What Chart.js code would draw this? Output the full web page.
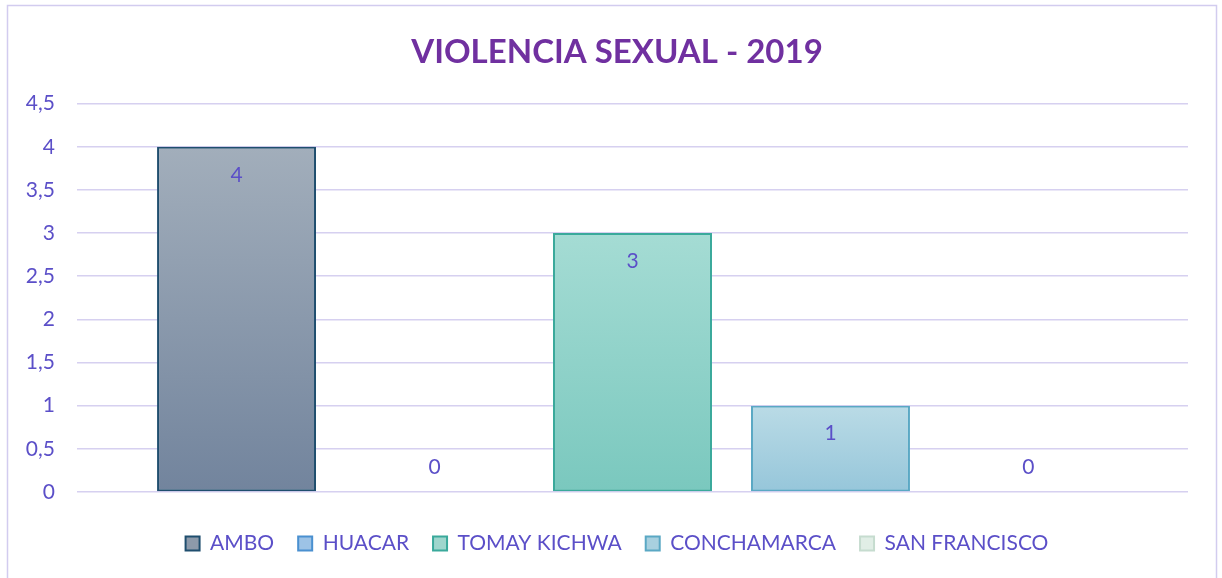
<!DOCTYPE html>
<html>
<head>
<meta charset="utf-8">
<script src="https://cdn.jsdelivr.net/npm/chart.js@4/dist/chart.umd.min.js"></script>
<style>
html,body{margin:0;padding:0;background:#fff;}
#wrap{position:absolute;left:0;top:0;width:1222px;height:578px;}
</style>
</head>
<body>
<div id="wrap"><canvas id="c" width="1222" height="578"></canvas></div>
<script>
const categories = ["2019"];
const seriesNames = ["AMBO", "HUACAR", "TOMAY KICHWA", "CONCHAMARCA", "SAN FRANCISCO"];
const ambo = [4];
const huacar = [0];
const tomayKichwa = [3];
const conchamarca = [1];
const sanFrancisco = [0];
const seriesValues = [ambo, huacar, tomayKichwa, conchamarca, sanFrancisco];
const yTicks = [0, 0.5, 1, 1.5, 2, 2.5, 3, 3.5, 4, 4.5];

const gradTop = ["#a2aebb", "#b5d2ee", "#a5dcd4", "#badbe6", "#e8f2ec"];
const gradBottom = ["#72849d", "#8ab6e0", "#7ac8be", "#96c6da", "#d6e8de"];
const borderCols = ["#1f4e6e", "#4a90d0", "#3aa99b", "#5aa8c4", "#c6dccf"];
const legendFill = ["#8d9aaa", "#9dc3e6", "#9fd6cd", "#a8d0df", "#e1eee6"];
const textCol = "#5b4fc8";
const FONT = "Lato, 'Open Sans', sans-serif";

function makeBg(i) {
  return function (ctx) {
    const chart = ctx.chart;
    const ys = chart.scales && chart.scales.y;
    if (!chart.chartArea || !ys || ctx.raw === undefined) return gradBottom[i];
    const top = ys.getPixelForValue(ctx.raw);
    const bot = ys.getPixelForValue(0);
    if (Math.abs(bot - top) < 1) return gradBottom[i];
    const g = chart.ctx.createLinearGradient(0, top, 0, bot);
    g.addColorStop(0, gradTop[i]);
    g.addColorStop(1, gradBottom[i]);
    return g;
  };
}

const datasets = seriesNames.map((name, i) => ({
  label: name,
  data: seriesValues[i],
  backgroundColor: makeBg(i),
  borderColor: borderCols[i],
  borderWidth: 2,
  borderSkipped: false,
  categoryPercentage: 0.891,
  barPercentage: 0.803
}));

const frame = {
  id: 'frame',
  beforeDraw(chart) {
    const c = chart.ctx;
    c.save();
    c.fillStyle = '#ffffff';
    c.fillRect(0, 0, chart.width, chart.height);
    c.strokeStyle = '#d2ccef';
    c.lineWidth = 1.5;
    c.strokeRect(7.5, 5.5, 1209, 600);
    c.restore();
  }
};

// shift title and legend centre slightly right, as in the original
const shiftBlocks = {
  id: 'shiftBlocks',
  afterLayout(chart) {
    const dx = 13;
    [chart.titleBlock, chart.legend].forEach(b => {
      if (b) { b.left += dx; b.right += dx; }
    });
  }
};

const valueLabels = {
  id: 'valueLabels',
  afterDatasetsDraw(chart) {
    const c = chart.ctx;
    c.save();
    c.fillStyle = textCol;
    c.font = "21px " + FONT;
    c.textAlign = 'center';
    c.textBaseline = 'middle';
    chart.data.datasets.forEach((ds, di) => {
      const meta = chart.getDatasetMeta(di);
      meta.data.forEach((bar, j) => {
        const v = ds.data[j];
        const y = v === 0 ? bar.y - 25 : bar.y + 28;
        c.fillText(String(v), bar.x, y);
      });
    });
    c.restore();
  }
};

new Chart(document.getElementById('c'), {
  type: 'bar',
  data: { labels: categories, datasets: datasets },
  plugins: [frame, shiftBlocks, valueLabels],
  options: {
    responsive: false,
    animation: false,
    layout: { padding: { left: 20, right: 34, top: 0, bottom: 14 } },
    plugins: {
      tooltip: { enabled: false },
      title: {
        display: true,
        text: 'VIOLENCIA SEXUAL - 2019',
        color: '#7030a0',
        font: { family: FONT, size: 33, weight: 'bold' },
        padding: { top: 33, bottom: 31 }
      },
      legend: {
        position: 'bottom',
        labels: {
          color: textCol,
          font: { family: FONT, size: 21 },
          boxWidth: 14,
          boxHeight: 14,
          padding: 24,
          generateLabels(chart) {
            return chart.data.datasets.map((ds, i) => ({
              text: ds.label,
              fillStyle: legendFill[i],
              strokeStyle: borderCols[i],
              lineWidth: 2,
              fontColor: textCol,
              datasetIndex: i,
              hidden: false
            }));
          }
        }
      }
    },
    scales: {
      x: {
        grid: { display: false },
        border: { display: false },
        ticks: { display: false },
        afterFit(scale) { scale.height = 17; }
      },
      y: {
        min: 0,
        max: 4.5,
        afterBuildTicks(scale) {
          scale.ticks = yTicks.map(v => ({ value: v }));
        },
        afterFit(scale) { scale.width = 57; },
        grid: { color: '#d6d0f0', lineWidth: 1.5, drawTicks: false },
        border: { display: false },
        ticks: {
          color: textCol,
          font: { family: FONT, size: 21 },
          padding: 22,
          callback: v => String(v).replace('.', ',')
        }
      }
    }
  }
});
</script>
</body>
</html>
